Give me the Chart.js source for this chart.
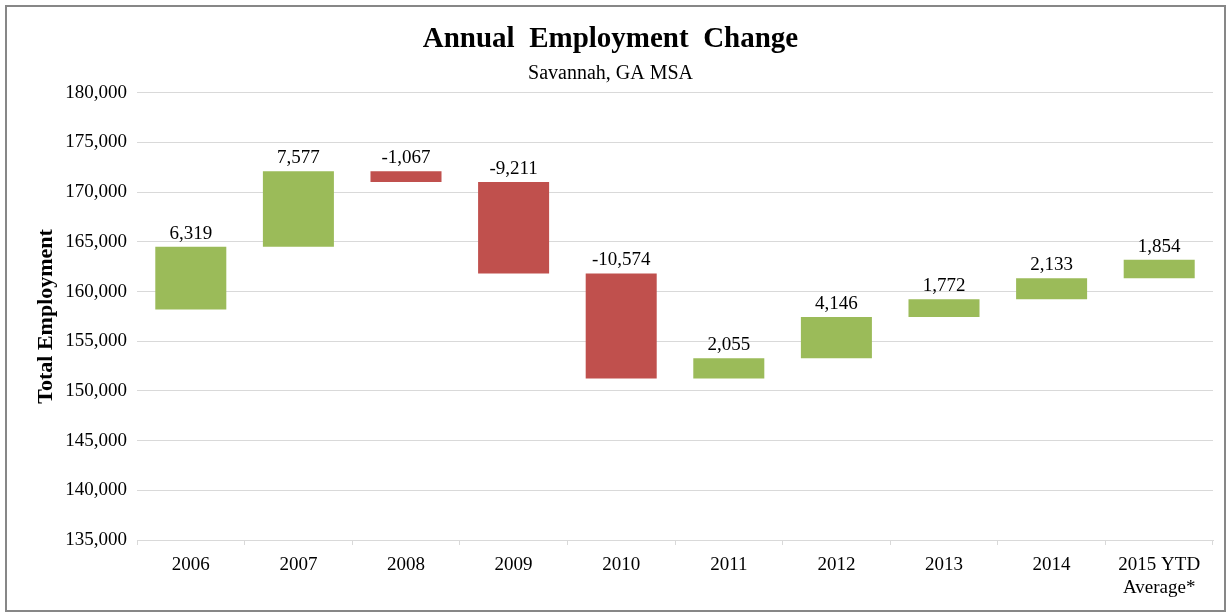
<!DOCTYPE html>
<html>
<head>
<meta charset="utf-8">
<title>Annual Employment Change</title>
<script src="https://cdn.jsdelivr.net/npm/chart.js@4.4.1/dist/chart.umd.min.js"></script>
<style>
    html, body { margin: 0; padding: 0; background: #fff; }
    #wrap { position: relative; width: 1231px; height: 616px; }
</style>
</head>
<body>
<div id="wrap"><canvas id="employmentChart" width="1231" height="616"></canvas></div>
<script>
// 年份和每年就业人数变化
const years = ['2006', '2007', '2008', '2009', '2010', '2011', '2012', '2013', '2014', ['2015 YTD', 'Average*']];
const changes = [6319, 7577, -1067, -9211, -10574, 2055, 4146, 1772, 2133, 1854];
// 2005 年底的总就业人数（瀑布图起点）
const startEmployment = 158200;
const yMin = 135000;
const yMax = 180000;
const yStep = 5000;

const GREEN = '#9BBB59';
const RED = '#C0504D';
const FONT = '"Liberation Serif", "Times New Roman", serif';

// 累计计算每根柱子的起止值
function buildRanges() {
    const ranges = [];
    let level = startEmployment;
    changes.forEach(function(c) {
        ranges.push([level, level + c]);
        level += c;
    });
    return ranges;
}

// 柱子上方的数值标签
const valueLabels = {
    id: 'valueLabels',
    afterDatasetsDraw(chart) {
        const ctx = chart.ctx;
        const meta = chart.getDatasetMeta(0);
        ctx.save();
        ctx.font = '19px ' + FONT;
        ctx.fillStyle = '#000';
        ctx.textAlign = 'center';
        ctx.textBaseline = 'alphabetic';
        meta.data.forEach(function(bar, i) {
            const top = Math.min(bar.y, bar.base);
            ctx.fillText(changes[i].toLocaleString('en-US'), bar.x, top - 8);
        });
        ctx.restore();
    }
};

// 白色背景和外框
const frame = {
    id: 'frame',
    beforeDraw(chart) {
        const ctx = chart.ctx;
        ctx.save();
        ctx.fillStyle = '#fff';
        ctx.fillRect(0, 0, chart.width, chart.height);
        ctx.restore();
    },
    afterDraw(chart) {
        const ctx = chart.ctx;
        ctx.save();
        ctx.strokeStyle = '#878787';
        ctx.lineWidth = 2;
        ctx.strokeRect(6, 6, 1219, 605);
        ctx.restore();
    }
};

function initializeEmploymentChart() {
    const ctx = document.getElementById('employmentChart').getContext('2d');

    const data = {
        labels: years,
        datasets: [{
            label: 'Employment Change',
            data: buildRanges(),
            backgroundColor: changes.map(c => c >= 0 ? GREEN : RED),
            borderWidth: 0,
            barPercentage: 0.66,
            categoryPercentage: 1.0
        }]
    };

    const options = {
        responsive: false,
        devicePixelRatio: 1,
        animation: false,
        layout: {
            padding: { left: 8, right: 18, top: 22, bottom: 0 }
        },
        plugins: {
            legend: { display: false },
            tooltip: { enabled: false },
            title: {
                display: true,
                text: 'Annual  Employment  Change',
                color: '#000',
                font: { family: FONT, size: 29, weight: 'bold', lineHeight: 1.2 },
                padding: { top: 0, bottom: 5 }
            },
            subtitle: {
                display: true,
                text: 'Savannah, GA MSA',
                color: '#000',
                font: { family: FONT, size: 20, lineHeight: 1.2 },
                padding: { top: 0, bottom: 7 }
            }
        },
        scales: {
            x: {
                grid: {
                    drawOnChartArea: false,
                    drawTicks: true,
                    tickLength: 5,
                    color: '#d9d9d9'
                },
                border: { display: true, color: '#d9d9d9' },
                ticks: {
                    color: '#000',
                    font: { family: FONT, size: 19, lineHeight: 1.2 },
                    padding: 9,
                    maxRotation: 0,
                    autoSkip: false
                },
                afterFit(scale) {
                    scale.height = 76;
                }
            },
            y: {
                min: yMin,
                max: yMax,
                grid: {
                    color: '#d9d9d9',
                    drawTicks: false
                },
                border: { display: false },
                ticks: {
                    stepSize: yStep,
                    color: '#000',
                    padding: 10,
                    font: { family: FONT, size: 19 },
                    callback: function(value) {
                        return value.toLocaleString('en-US');
                    }
                },
                title: {
                    display: true,
                    text: 'Total Employment',
                    color: '#000',
                    font: { family: FONT, size: 22, weight: 'bold', lineHeight: 1.2 },
                    padding: { top: 25, bottom: 0 }
                },
                afterFit(scale) {
                    scale.width = 129;
                }
            }
        }
    };

    new Chart(ctx, {
        type: 'bar',
        data: data,
        options: options,
        plugins: [frame, valueLabels]
    });
}

initializeEmploymentChart();
</script>
</body>
</html>
